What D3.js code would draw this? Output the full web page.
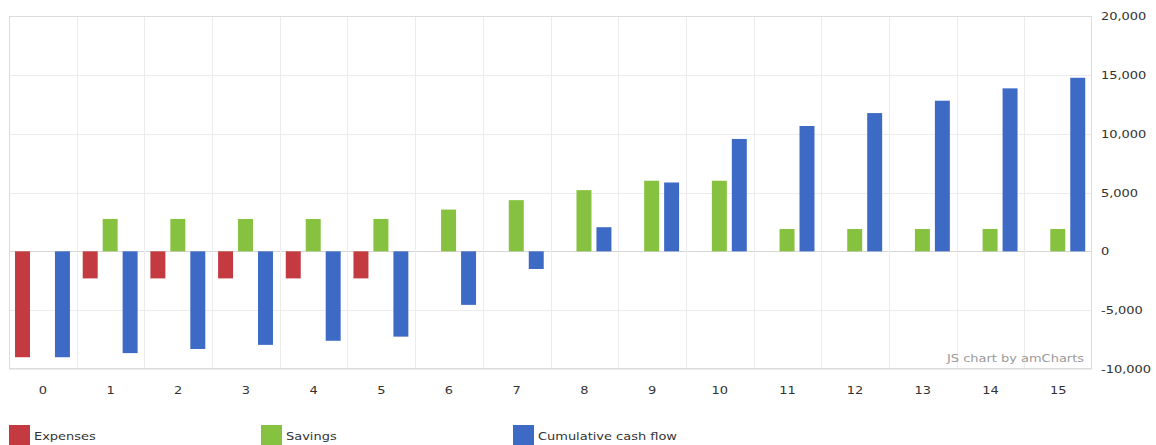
<!DOCTYPE html>
<html>
<head>
<meta charset="utf-8">
<script src="https://cdn.jsdelivr.net/npm/d3@7/dist/d3.min.js"></script>
<style>
  html, body { margin: 0; padding: 0; background: #fff; }
  svg { display: block; font-family: Verdana, "DejaVu Sans", sans-serif; }
</style>
</head>
<body>
<svg id="chart" width="1156" height="445"></svg>
<script>
// Years of the cash-flow projection
const categories = ["0","1","2","3","4","5","6","7","8","9","10","11","12","13","14","15"];
// Series values per year
const expenses = [-9000, -2300, -2300, -2300, -2300, -2300, 0, 0, 0, 0, 0, 0, 0, 0, 0, 0];
const savings  = [0, 2750, 2750, 2750, 2750, 2750, 3550, 4350, 5200, 6000, 6000, 1900, 1900, 1900, 1900, 1900];
const cumulative = [-9000, -8650, -8300, -7950, -7600, -7250, -4550, -1500, 2050, 5850, 9550, 10650, 11750, 12800, 13850, 14750];
// Value axis ticks
const yTicks = [-10000, -5000, 0, 5000, 10000, 15000, 20000];

const seriesNames = ["Expenses", "Savings", "Cumulative cash flow"];
const seriesValues = [expenses, savings, cumulative];
const colors = ["#c33b40", "#86c13f", "#3d6ac5"];

// Wide Verdana-style lettering
const TEXT_SX = 1.18;
const fmt = d3.formatLocale({ decimal: ".", thousands: ",", grouping: [3], currency: ["$", ""], minus: "-" }).format(",");

const svg = d3.select("#chart");
const plot = { left: 9, top: 16, right: 1092, bottom: 369 };

const x = d3.scaleBand().domain(categories).range([plot.left, plot.right]).padding(0);
const bw = x.bandwidth();
const xs = d3.scaleBand().domain(seriesNames)
  .range([bw * 0.089, bw * 0.9]).paddingInner(0.25).paddingOuter(0);
const y = d3.scaleLinear().domain([-10000, 20000]).range([plot.bottom, plot.top]);

// Horizontal grid
svg.append("g").selectAll("line").data(yTicks).join("line")
  .attr("x1", plot.left).attr("x2", plot.right)
  .attr("y1", d => Math.round(y(d)) + 0.5).attr("y2", d => Math.round(y(d)) + 0.5)
  .attr("stroke", d => d === 0 ? "#d6d6d6" : "#ececec").attr("stroke-width", 1);

// Vertical grid at category boundaries
svg.append("g").selectAll("line").data(categories.slice(1)).join("line")
  .attr("x1", d => Math.round(x(d)) + 0.5).attr("x2", d => Math.round(x(d)) + 0.5)
  .attr("y1", plot.top).attr("y2", plot.bottom)
  .attr("stroke", "#ececec");

// Plot frame
svg.append("rect")
  .attr("x", plot.left + 0.5).attr("y", plot.top + 0.5)
  .attr("width", plot.right - plot.left - 1).attr("height", plot.bottom - plot.top - 1)
  .attr("fill", "none").attr("stroke", "#dcdcdc");

// Columns
const groups = svg.append("g").selectAll("g").data(categories).join("g")
  .attr("transform", d => `translate(${x(d)},0)`);
seriesNames.forEach((name, si) => {
  groups.append("rect")
    .attr("x", xs(name))
    .attr("width", xs.bandwidth())
    .attr("y", (d, i) => y(Math.max(0, seriesValues[si][i])))
    .attr("height", (d, i) => Math.abs(y(seriesValues[si][i]) - y(0)))
    .attr("fill", colors[si]);
});

// Right value axis
const yAxis = d3.axisRight(y).tickValues(yTicks).tickFormat(fmt).tickSize(0).tickPadding(0);
svg.append("g").attr("transform", `translate(${plot.right + 9},0)`).call(yAxis)
  .call(g => g.select(".domain").remove())
  .call(g => g.selectAll("text").attr("fill", "#333").attr("font-size", 11)
    .attr("font-family", "Verdana, 'DejaVu Sans', sans-serif")
    .attr("transform", `scale(${TEXT_SX},1)`));

// Bottom category axis
const xAxis = d3.axisBottom(x).tickSize(0).tickPadding(0);
svg.append("g").attr("transform", `translate(0,${plot.bottom + 17})`).call(xAxis)
  .call(g => g.select(".domain").remove())
  .call(g => g.selectAll("text").attr("fill", "#333").attr("font-size", 11)
    .attr("font-family", "Verdana, 'DejaVu Sans', sans-serif")
    .attr("transform", `scale(${TEXT_SX},1)`));

// Credit
svg.append("g").attr("transform", `translate(${plot.right - 8},${plot.bottom - 7})`)
  .append("text").attr("text-anchor", "end").attr("font-size", 11).attr("fill", "#9a9a9a")
  .attr("transform", `scale(${TEXT_SX},1)`)
  .text("JS chart by amCharts");

// Legend
const legend = svg.append("g").selectAll("g").data(seriesNames).join("g")
  .attr("transform", (d, i) => `translate(${9 + i * 252},425)`);
legend.append("rect").attr("width", 21).attr("height", 21).attr("fill", (d, i) => colors[i]);
legend.append("g").attr("transform", "translate(25,15)")
  .append("text").attr("font-size", 11).attr("fill", "#333")
  .attr("transform", `scale(${TEXT_SX},1)`)
  .text(d => d);
</script>
</body>
</html>
